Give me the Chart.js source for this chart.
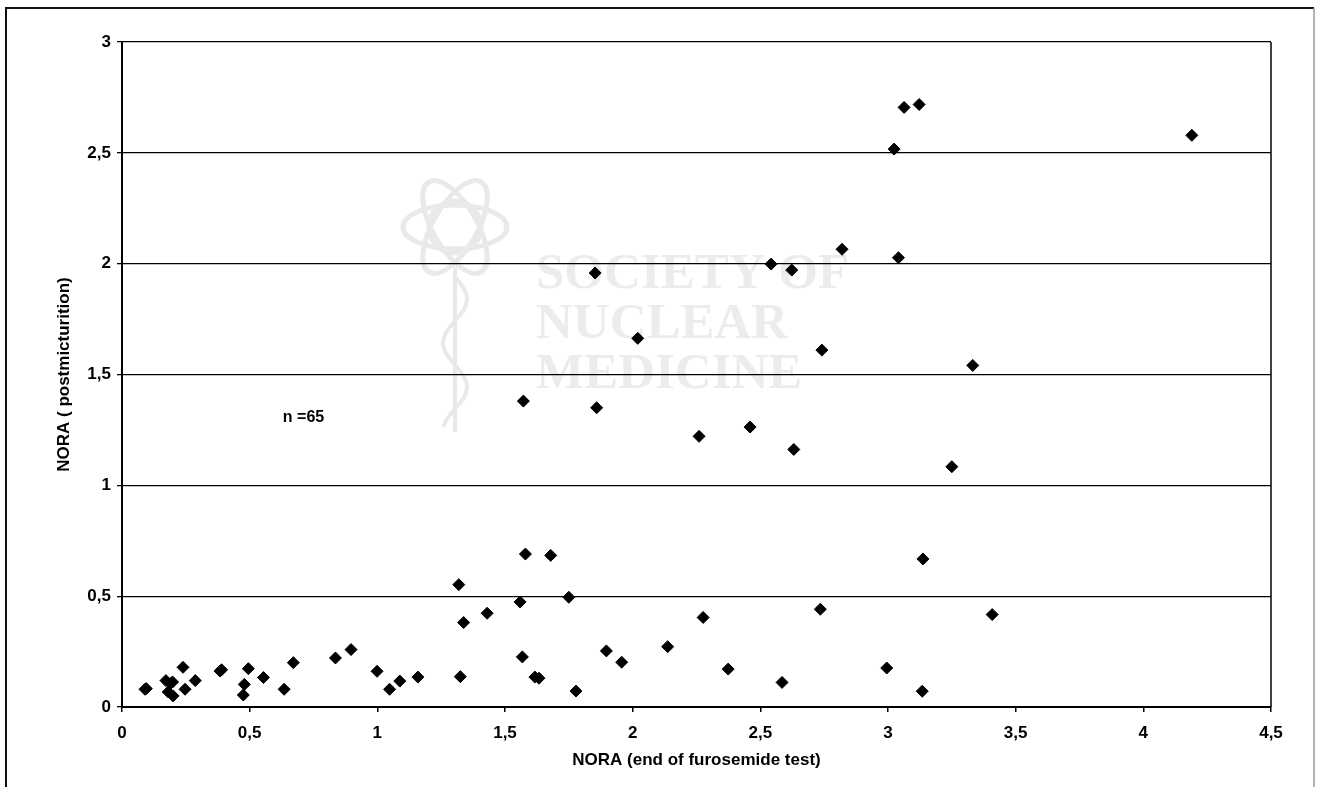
<!DOCTYPE html>
<html>
<head>
<meta charset="utf-8">
<script src="https://cdn.jsdelivr.net/npm/chart.js@4/dist/chart.umd.min.js"></script>
<style>
  html, body { margin: 0; padding: 0; background: #ffffff; }
  #wrap { position: relative; width: 1319px; height: 787px; }
</style>
</head>
<body>
<div id="wrap"><canvas id="c"></canvas></div>
<script>
// NORA at end of furosemide test (x) vs NORA postmicturition (y)
const noraEndFurosemide = [
  3.063, 3.122, 3.024, 4.190, 3.041, 2.820, 1.853, 2.542, 2.623, 2.020, 2.741, 3.332,
  1.572, 1.859, 2.260, 2.460, 2.631, 3.250,
  3.137, 3.408, 1.319, 1.580, 1.679, 1.750, 1.559, 1.430, 1.338, 2.276, 2.735,
  1.568, 1.617, 1.633, 1.778, 1.897, 1.957, 2.137, 2.374, 2.585, 2.995, 3.134,
  0.090, 0.172, 0.192, 0.181, 0.200, 0.239, 0.247, 0.287, 0.384, 0.479, 0.475,
  0.495, 0.554, 0.635, 0.671, 0.836, 0.897, 0.999, 1.048, 1.088, 1.159, 1.325,
  0.390, 0.095, 0.198
];
const noraPostmicturition = [
  2.705, 2.718, 2.517, 2.579, 2.027, 2.065, 1.958, 1.998, 1.971, 1.663, 1.610, 1.541,
  1.380, 1.350, 1.221, 1.263, 1.162, 1.084,
  0.668, 0.417, 0.552, 0.690, 0.684, 0.495, 0.474, 0.423, 0.381, 0.404, 0.441,
  0.226, 0.135, 0.130, 0.072, 0.253, 0.202, 0.272, 0.171, 0.111, 0.176, 0.071,
  0.080, 0.119, 0.108, 0.068, 0.050, 0.179, 0.080, 0.119, 0.162, 0.102, 0.054,
  0.173, 0.133, 0.080, 0.200, 0.221, 0.259, 0.161, 0.080, 0.117, 0.135, 0.137,
  0.168, 0.083, 0.113
];
const xTickLabels = ['0', '0,5', '1', '1,5', '2', '2,5', '3', '3,5', '4', '4,5'];
const yTickLabels = ['0', '0,5', '1', '1,5', '2', '2,5', '3'];
const xTitle = 'NORA (end of furosemide test)';
const yTitle = 'NORA ( postmicturition)';
const annotationText = 'n =65';
const annotationPos = [0.63, 1.307];
const watermarkLines = ['SOCIETY OF', 'NUCLEAR', 'MEDICINE'];

const points = noraEndFurosemide.map((x, i) => ({ x: x, y: noraPostmicturition[i] }));
const FONT = '"Liberation Sans", Arial, sans-serif';

const framePlugin = {
  id: 'frame',
  beforeDraw(chart) {
    const ctx = chart.ctx;
    const a = chart.chartArea;
    ctx.save();
    // watermark (very light grey)
    ctx.fillStyle = '#ececec';
    ctx.strokeStyle = '#e9e9e9';
    ctx.font = 'bold 51px "Liberation Serif", "DejaVu Serif", serif';
    ctx.textBaseline = 'alphabetic';
    ctx.textAlign = 'left';
    const wx = a.left + 414, wy = a.top + 246;
    watermarkLines.forEach((t, i) => ctx.fillText(t, wx, wy + i * 50));
    // logo: atom + staff
    ctx.lineWidth = 5;
    const cx = a.left + 333, cy = a.top + 185;
    for (let k = 0; k < 3; k++) {
      ctx.beginPath();
      ctx.ellipse(cx, cy, 52, 22, k * Math.PI / 3, 0, Math.PI * 2);
      ctx.stroke();
    }
    ctx.beginPath();
    ctx.arc(cx, cy, 26, 0, Math.PI * 2);
    ctx.stroke();
    ctx.lineWidth = 4;
    ctx.beginPath();
    ctx.moveTo(cx, cy + 40);
    ctx.lineTo(cx, cy + 205);
    ctx.stroke();
    ctx.beginPath();
    for (let t = 0; t <= 150; t += 3) {
      const px = cx + 12 * Math.sin(t / 14);
      const py = cy + 50 + t;
      if (t === 0) ctx.moveTo(px, py); else ctx.lineTo(px, py);
    }
    ctx.stroke();
    ctx.restore();
  },
  afterDraw(chart) {
    const ctx = chart.ctx;
    const a = chart.chartArea;
    ctx.save();
    // right border of plot area
    ctx.strokeStyle = '#000';
    ctx.lineWidth = 1.5;
    ctx.beginPath();
    ctx.moveTo(a.right, a.top);
    ctx.lineTo(a.right, a.bottom);
    ctx.stroke();
    // outer frame
    ctx.lineWidth = 2;
    ctx.strokeStyle = '#111';
    ctx.beginPath();
    ctx.moveTo(6, 790);
    ctx.lineTo(6, 8);
    ctx.lineTo(1314, 8);
    ctx.stroke();
    ctx.strokeStyle = '#9a9a9a';
    ctx.lineWidth = 1.5;
    ctx.beginPath();
    ctx.moveTo(1314, 8);
    ctx.lineTo(1314, 790);
    ctx.stroke();
    // annotation
    const xs = chart.scales.x, ys = chart.scales.y;
    ctx.fillStyle = '#000';
    ctx.font = 'bold 16px ' + FONT;
    ctx.textAlign = 'left';
    ctx.textBaseline = 'middle';
    ctx.fillText(annotationText, xs.getPixelForValue(annotationPos[0]), ys.getPixelForValue(annotationPos[1]));
    ctx.restore();
  }
};

new Chart(document.getElementById('c'), {
  type: 'scatter',
  data: {
    datasets: [{
      data: points,
      pointStyle: 'rectRot',
      pointRadius: 6,
      pointHoverRadius: 6,
      backgroundColor: '#000',
      borderColor: '#000',
      borderWidth: 1
    }]
  },
  plugins: [framePlugin],
  options: {
    responsive: true,
    maintainAspectRatio: false,
    animation: false,
    events: [],
    layout: { padding: { left: 0, top: 42, right: 48, bottom: 0 } },
    plugins: { legend: { display: false }, tooltip: { enabled: false } },
    scales: {
      x: {
        type: 'linear',
        min: 0, max: 4.5,
        afterFit(s) { s.height = 80; },
        ticks: {
          stepSize: 0.5,
          color: '#000',
          padding: 11,
          maxRotation: 0,
          autoSkip: false,
          font: { family: FONT, size: 17, weight: 'bold' },
          callback: (v) => xTickLabels[Math.round(v / 0.5)]
        },
        grid: { drawOnChartArea: false, drawTicks: true, tickLength: 5, color: '#000', lineWidth: 1.5 },
        border: { display: true, color: '#000', width: 2 },
        title: {
          display: true,
          text: xTitle,
          color: '#000',
          font: { family: FONT, size: 17, weight: 'bold' },
          padding: { top: 0, bottom: 16 }
        }
      },
      y: {
        type: 'linear',
        min: 0, max: 3,
        afterFit(s) { s.width = 122; },
        ticks: {
          stepSize: 0.5,
          color: '#000',
          padding: 6,
          font: { family: FONT, size: 17, weight: 'bold' },
          callback: (v) => yTickLabels[Math.round(v / 0.5)]
        },
        grid: { drawOnChartArea: true, drawTicks: true, tickLength: 5, color: '#000', lineWidth: 1.3 },
        border: { display: true, color: '#000', width: 2 },
        title: {
          display: true,
          text: yTitle,
          color: '#000',
          font: { family: FONT, size: 17, weight: 'bold' },
          padding: { top: 54, bottom: 0 }
        }
      }
    }
  }
});
</script>
</body>
</html>
